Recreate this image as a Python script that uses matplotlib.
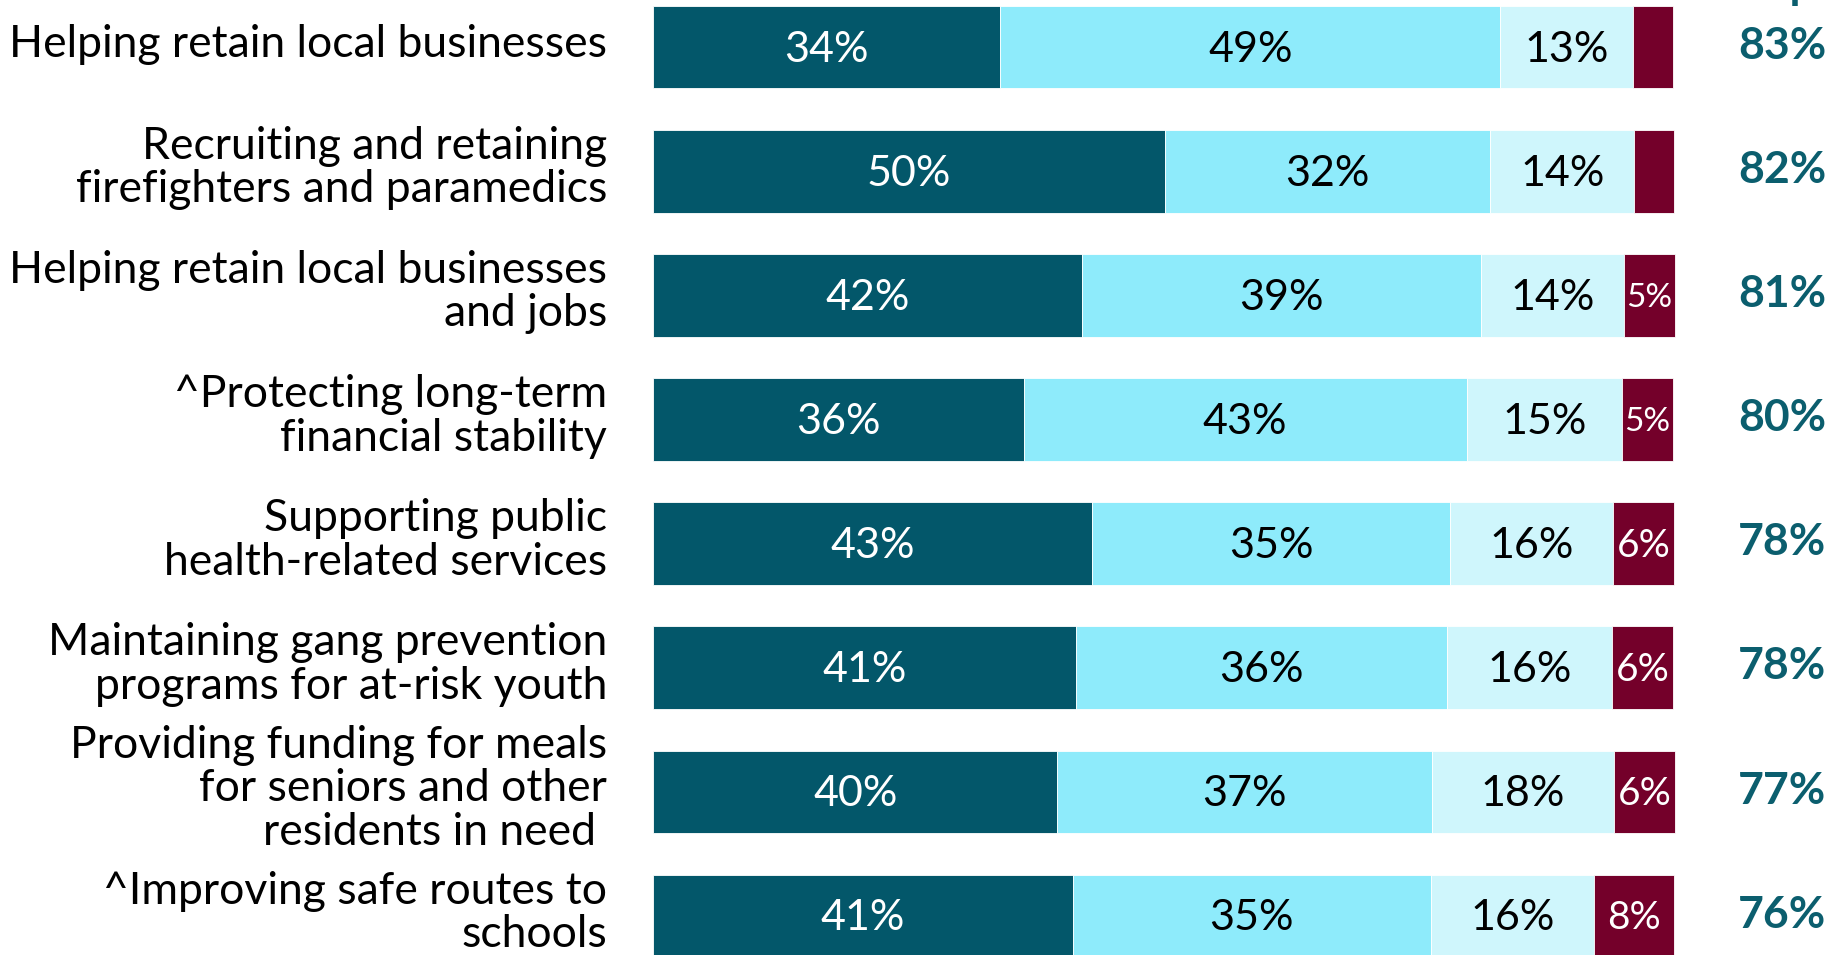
import numpy as np
import matplotlib.pyplot as plt

plt.rcParams['font.family'] = ['Lato', 'DejaVu Sans']

# categories, top to bottom
categories = [
    "Helping retain local businesses",
    "Recruiting and retaining\nfirefighters and paramedics",
    "Helping retain local businesses\nand jobs",
    "^Protecting long-term\nfinancial stability",
    "Supporting public\nhealth-related services",
    "Maintaining gang prevention\nprograms for at-risk youth",
    "Providing funding for meals\nfor seniors and other\nresidents in need ",
    "^Improving safe routes to\nschools",
]

# segment values (%)
very_imp = [34.0, 50.1, 42.0, 36.3, 43.0, 41.4, 39.6, 41.1]
smwt_imp = [49.0, 31.9, 39.1, 43.4, 35.1, 36.4, 36.7, 35.1]
not_imp = [13.0, 14.1, 14.0, 15.2, 15.9, 16.1, 17.8, 16.0]
dk_na = [3.9, 3.9, 5.0, 5.0, 6.0, 6.0, 6.0, 7.8]
total_imp = [83, 82, 81, 80, 78, 78, 77, 76]

colors = ['#03576A', '#8EEBFB', '#CFF6FC', '#74002A']
text_colors = ['white', 'black', 'black', 'white']

# pixel layout helpers
W, H = 1846, 955
x0_px, x1_px = 653, 1674
ppu = (x1_px - x0_px) / 100.0
y0_px, pitch = 47.2, 124.1


def px_x(p):
    return (p - x0_px) / ppu


def px_y(p):
    return (p - y0_px) / pitch


fig = plt.figure(figsize=(W / 100, H / 100), dpi=100)
ax = fig.add_axes([0, 0, 1, 1])
ax.set_xlim(px_x(0), px_x(W))
ax.set_ylim(px_y(H), px_y(0))
ax.axis('off')

y = np.arange(len(categories))
left = np.zeros(len(categories))
series = [very_imp, smwt_imp, not_imp, dk_na]
for vals, c, tc in zip(series, colors, text_colors):
    vals = np.array(vals)
    ax.barh(y, vals, left=left, height=0.664, color=c, edgecolor='white', linewidth=0.6)
    for yi, l, v in zip(y, left, vals):
        if v >= 4.5:
            fs = 31 if v >= 9 else (28 if v >= 5.5 else 24)
            ax.text(l + v / 2, yi + 0.02, f"{round(v)}%", ha='center', va='center',
                    color=tc, fontsize=fs)
    left += vals

for yi, cat in zip(y, categories):
    ax.text(px_x(607), yi - 0.025, cat, ha='right', va='center', fontsize=32,
            color='black', linespacing=1.07)

for yi, t in zip(y, total_imp):
    ax.text(px_x(1826), yi - 0.01, f"{t}%", ha='right', va='center', fontsize=32,
            fontweight='bold', color='#0B5E6E')

ax.text(px_x(1826), px_y(-1), "Imp.", ha='right', va='baseline', fontsize=32,
        fontweight='bold', color='#0B5E6E')

fig.savefig('out.png', dpi=100)
